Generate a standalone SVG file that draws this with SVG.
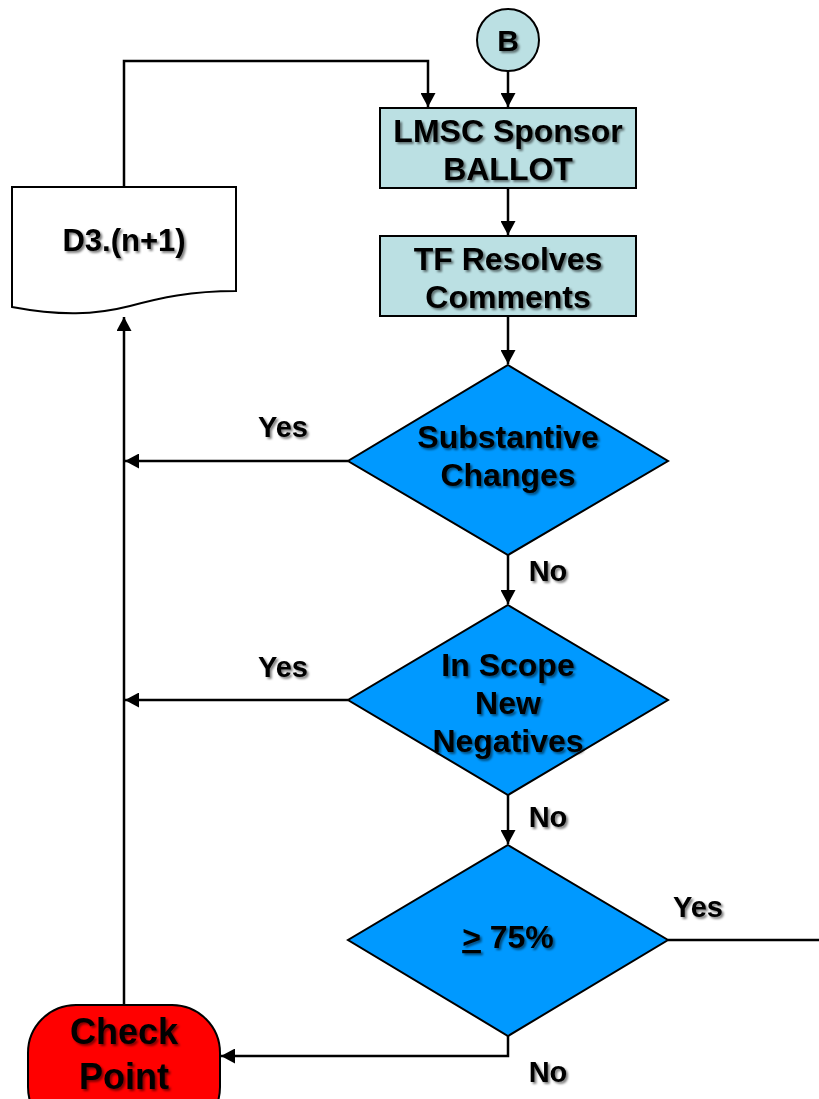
<svg xmlns="http://www.w3.org/2000/svg" width="819" height="1099" viewBox="0 0 819 1099">
<defs>
<filter id="sh" x="-10%" y="-20%" width="130%" height="150%">
<feDropShadow dx="2" dy="2" stdDeviation="1" flood-color="#000" flood-opacity="0.5"/>
</filter>
<marker id="ah" viewBox="0 0 14 15" refX="14" refY="7.5" markerWidth="14" markerHeight="15" markerUnits="userSpaceOnUse" orient="auto">
<path d="M0,0 L14,7.5 L0,15 z" fill="#000"/>
</marker>
</defs>
<style>
text{font-family:"Liberation Sans",Arial,sans-serif;font-weight:bold;fill:#000;text-anchor:middle;filter:url(#sh)}
.n{font-size:32px}
.l{font-size:29px}
.box{fill:#BBE0E3;stroke:#000;stroke-width:2}
.dia{fill:#0099FF;stroke:#000;stroke-width:2}
.c{fill:none;stroke:#000;stroke-width:2.5}
</style>
<rect width="819" height="1099" fill="#fff"/>
<g id="connectors">
<line class="c" x1="508" y1="71" x2="508" y2="107" marker-end="url(#ah)"/>
<polyline class="c" points="124,187 124,61 428,61 428,107" marker-end="url(#ah)"/>
<line class="c" x1="508" y1="188" x2="508" y2="235" marker-end="url(#ah)"/>
<line class="c" x1="508" y1="316" x2="508" y2="364" marker-end="url(#ah)"/>
<line class="c" x1="348" y1="461" x2="125" y2="461" marker-end="url(#ah)"/>
<line class="c" x1="508" y1="555" x2="508" y2="604" marker-end="url(#ah)"/>
<line class="c" x1="348" y1="700" x2="125" y2="700" marker-end="url(#ah)"/>
<line class="c" x1="508" y1="795" x2="508" y2="844" marker-end="url(#ah)"/>
<line class="c" x1="668" y1="940" x2="819" y2="940"/>
<polyline class="c" points="508,1036 508,1056 221,1056" marker-end="url(#ah)"/>
<line class="c" x1="124" y1="1005" x2="124" y2="317" marker-end="url(#ah)"/>
<text class="l" x="283" y="437">Yes</text>
<text class="l" x="283" y="677">Yes</text>
<text class="l" x="548" y="581">No</text>
<text class="l" x="548" y="827">No</text>
<text class="l" x="698" y="917">Yes</text>
<text class="l" x="548" y="1082">No</text>
</g>
<g id="B">
<circle cx="508" cy="40" r="31" class="box"/>
<text x="508" y="51" style="font-size:30px">B</text>
</g>
<g id="lmsc">
<rect class="box" x="380" y="108" width="256" height="80"/>
<text class="n" x="508" y="142">LMSC Sponsor</text>
<text class="n" x="508" y="180">BALLOT</text>
</g>
<g id="tf">
<rect class="box" x="380" y="236" width="256" height="80"/>
<text class="n" x="508" y="270">TF Resolves</text>
<text class="n" x="508" y="308">Comments</text>
</g>
<g id="doc">
<path d="M12,187 H236 V291 C190,291 160,298 130,306 C95,315 60,316 12,307 Z" fill="#fff" stroke="#000" stroke-width="2"/>
<text x="124" y="251" style="font-size:31px">D3.(n+1)</text>
</g>
<g id="d1">
<polygon class="dia" points="508,365 668,461 508,555 348,461"/>
<text class="n" x="508" y="448">Substantive</text>
<text class="n" x="508" y="486">Changes</text>
</g>
<g id="d2">
<polygon class="dia" points="508,605 668,700 508,795 348,700"/>
<text class="n" x="508" y="676">In Scope</text>
<text class="n" x="508" y="714">New</text>
<text class="n" x="508" y="752">Negatives</text>
</g>
<g id="d3">
<polygon class="dia" points="508,845 668,940 508,1036 348,940"/>
<text class="n" x="508" y="948"><tspan text-decoration="underline">&gt;</tspan> 75%</text>
</g>
<g id="check">
<rect x="28" y="1005" width="192" height="130" rx="48" ry="48" fill="#FF0000" stroke="#000" stroke-width="2"/>
<text x="124" y="1044" style="font-size:36px">Check</text>
<text x="124" y="1089" style="font-size:36px">Point</text>
</g>
</svg>
